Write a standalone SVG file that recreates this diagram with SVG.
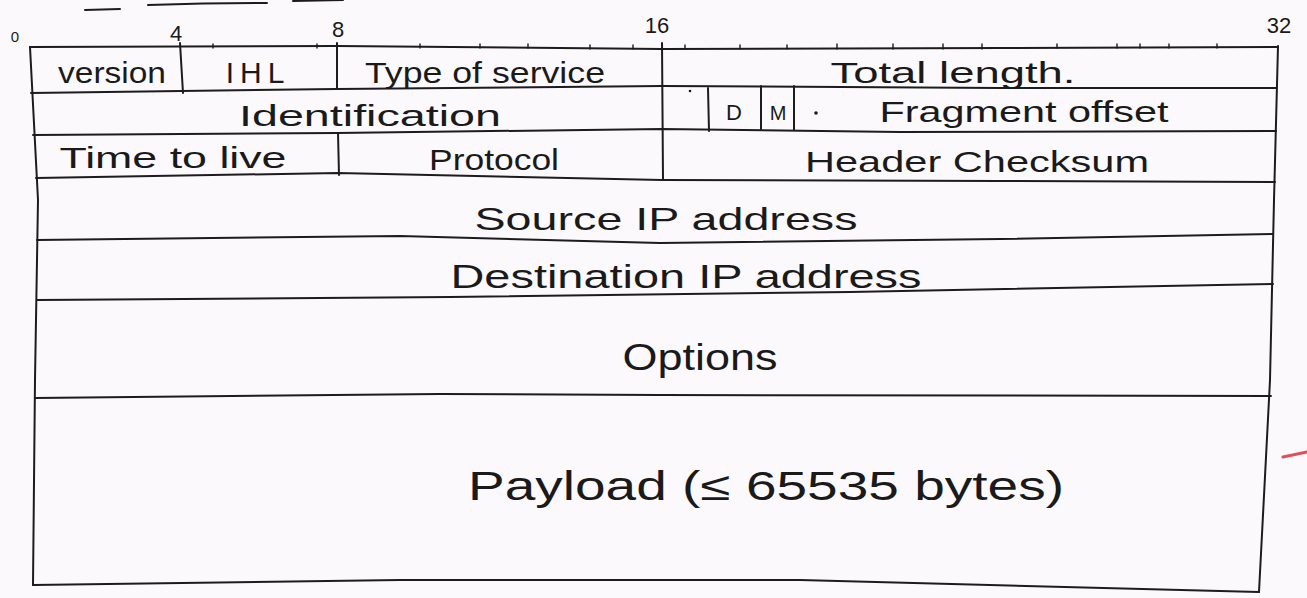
<svg xmlns="http://www.w3.org/2000/svg" width="1307" height="598" viewBox="0 0 1307 598">
  <style>
    .ln { fill: none; stroke: #1c1c1c; stroke-width: 2; stroke-linecap: round; stroke-linejoin: round; }
    .tk { fill: none; stroke: #1c1c1c; stroke-width: 1.4; stroke-linecap: round; }
    .t { font-family: "Liberation Sans", Arial, sans-serif; fill: #1a1a1a; text-anchor: middle; }
    .f30 { font-size: 30px; }
    .bit { font-size: 22px; }
  </style>
  <rect x="0" y="0" width="1307" height="598" fill="#fcf9fc"/>

  <!-- stray strokes -->
  <g id="marks">
    <path class="ln" d="M 85 10 L 120 9"/>
    <path class="ln" d="M 148 5 Q 210 3 267 3"/>
    <path class="ln" d="M 293 1 L 343 0"/>
    <path d="M 1283 457 L 1307 452" fill="none" stroke="#e0505a" stroke-width="3" stroke-linecap="round"/>
  </g>

  <!-- bit position labels -->
  <g id="bit-labels" class="t">
    <text class="t" x="15" y="42" font-size="15">0</text>
    <text class="t bit" x="176" y="41">4</text>
    <text class="t bit" x="338" y="37">8</text>
    <text class="t bit" x="657" y="33">16</text>
    <text class="t bit" x="1279" y="33">32</text>
  </g>

  <!-- grid lines -->
  <g id="connectors">
    <!-- outer borders -->
    <path class="ln" d="M 30 47 L 38 200 L 35 380 L 33 585"/>
    <path class="ln" d="M 1278 46 L 1274 200 L 1270 380 L 1259 592"/>
    <!-- horizontal row lines -->
    <path class="ln" d="M 30 47 L 337 46 L 662 49 L 1000 48 L 1278 47"/>
    <path class="ln" d="M 31 93 L 337 89 L 662 86 L 1000 88 L 1277 88"/>
    <path class="ln" d="M 33 135 L 337 133 L 662 129 L 900 132 L 1276 131"/>
    <path class="ln" d="M 36 178 L 338 173 L 662 180 L 1000 181 L 1275 182"/>
    <path class="ln" d="M 37 240 L 400 236 L 660 243 L 1000 239 L 1273 234"/>
    <path class="ln" d="M 37 300 L 450 297 L 850 292 L 1273 284"/>
    <path class="ln" d="M 35 398 L 440 394 L 660 395 L 1271 396"/>
    <path class="ln" d="M 33 585 L 400 580 L 800 580 L 1259 592"/>
    <!-- vertical separators -->
    <path class="ln" d="M 180 43 L 183 93"/>
    <path class="ln" d="M 337 43 L 337 89"/>
    <path class="ln" d="M 338 133 L 339 175"/>
    <path class="ln" d="M 662 43 L 663 180"/>
    <path class="ln" d="M 708 88 L 709 131"/>
    <path class="ln" d="M 761 86 L 761 129"/>
    <path class="ln" d="M 794 86 L 794 130"/>
    <!-- bit ticks on top line -->
    <path class="tk" d="M 213 44 L 213 48 M 317 44 L 317 48 M 420 44 L 420 48 M 480 44 L 480 48 M 528 44 L 528 48 M 590 45 L 590 49 M 633 45 L 633 49 M 685 45 L 685 49 M 740 45 L 740 49 M 787 45 L 787 49 M 837 44 L 837 49 M 893 44 L 893 49 M 943 44 L 943 49 M 982 44 L 982 49 M 1057 44 L 1057 48 M 1117 44 L 1117 48 M 1140 44 L 1140 48 M 1169 44 L 1169 48 M 1217 44 L 1217 48"/>
  </g>

  <g id="field-version"><text class="t f30" x="112" y="83" textLength="108" lengthAdjust="spacingAndGlyphs">version</text></g>
  <g id="field-ihl"><text class="t f30" x="258" y="83" letter-spacing="6">IHL</text></g>
  <g id="field-tos"><text class="t f30" x="485" y="83" textLength="240" lengthAdjust="spacingAndGlyphs">Type of service</text></g>
  <g id="field-total-length"><text class="t f30" x="953" y="83" textLength="245" lengthAdjust="spacingAndGlyphs">Total length.</text></g>

  <g id="field-identification"><text class="t f30" x="370" y="126" textLength="262" lengthAdjust="spacingAndGlyphs">Identification</text></g>
  <g id="field-flags">
    <circle cx="690" cy="91" r="1.3" fill="#1a1a1a"/>
    <text class="t" x="734" y="120" font-size="22">D</text>
    <text class="t" x="778" y="120" font-size="20">M</text>
    <circle cx="816" cy="113" r="1.8" fill="#1a1a1a"/>
  </g>
  <g id="field-fragment-offset"><text class="t f30" x="1024" y="122" textLength="289" lengthAdjust="spacingAndGlyphs">Fragment offset</text></g>

  <g id="field-ttl"><text class="t f30" x="173" y="168" textLength="227" lengthAdjust="spacingAndGlyphs">Time to live</text></g>
  <g id="field-protocol"><text class="t f30" x="494" y="170" textLength="130" lengthAdjust="spacingAndGlyphs">Protocol</text></g>
  <g id="field-checksum"><text class="t f30" x="977" y="172" textLength="344" lengthAdjust="spacingAndGlyphs">Header Checksum</text></g>

  <g id="field-source"><text class="t" x="666" y="230" font-size="32" textLength="383" lengthAdjust="spacingAndGlyphs">Source IP address</text></g>
  <g id="field-destination"><text class="t" x="686" y="288" font-size="34" textLength="471" lengthAdjust="spacingAndGlyphs">Destination IP address</text></g>
  <g id="field-options"><text class="t" x="700" y="370" font-size="36" textLength="155" lengthAdjust="spacingAndGlyphs">Options</text></g>
  <g id="field-payload"><text class="t" x="766" y="500" font-size="40" textLength="596" lengthAdjust="spacingAndGlyphs">Payload (≤ 65535 bytes)</text></g>
</svg>
